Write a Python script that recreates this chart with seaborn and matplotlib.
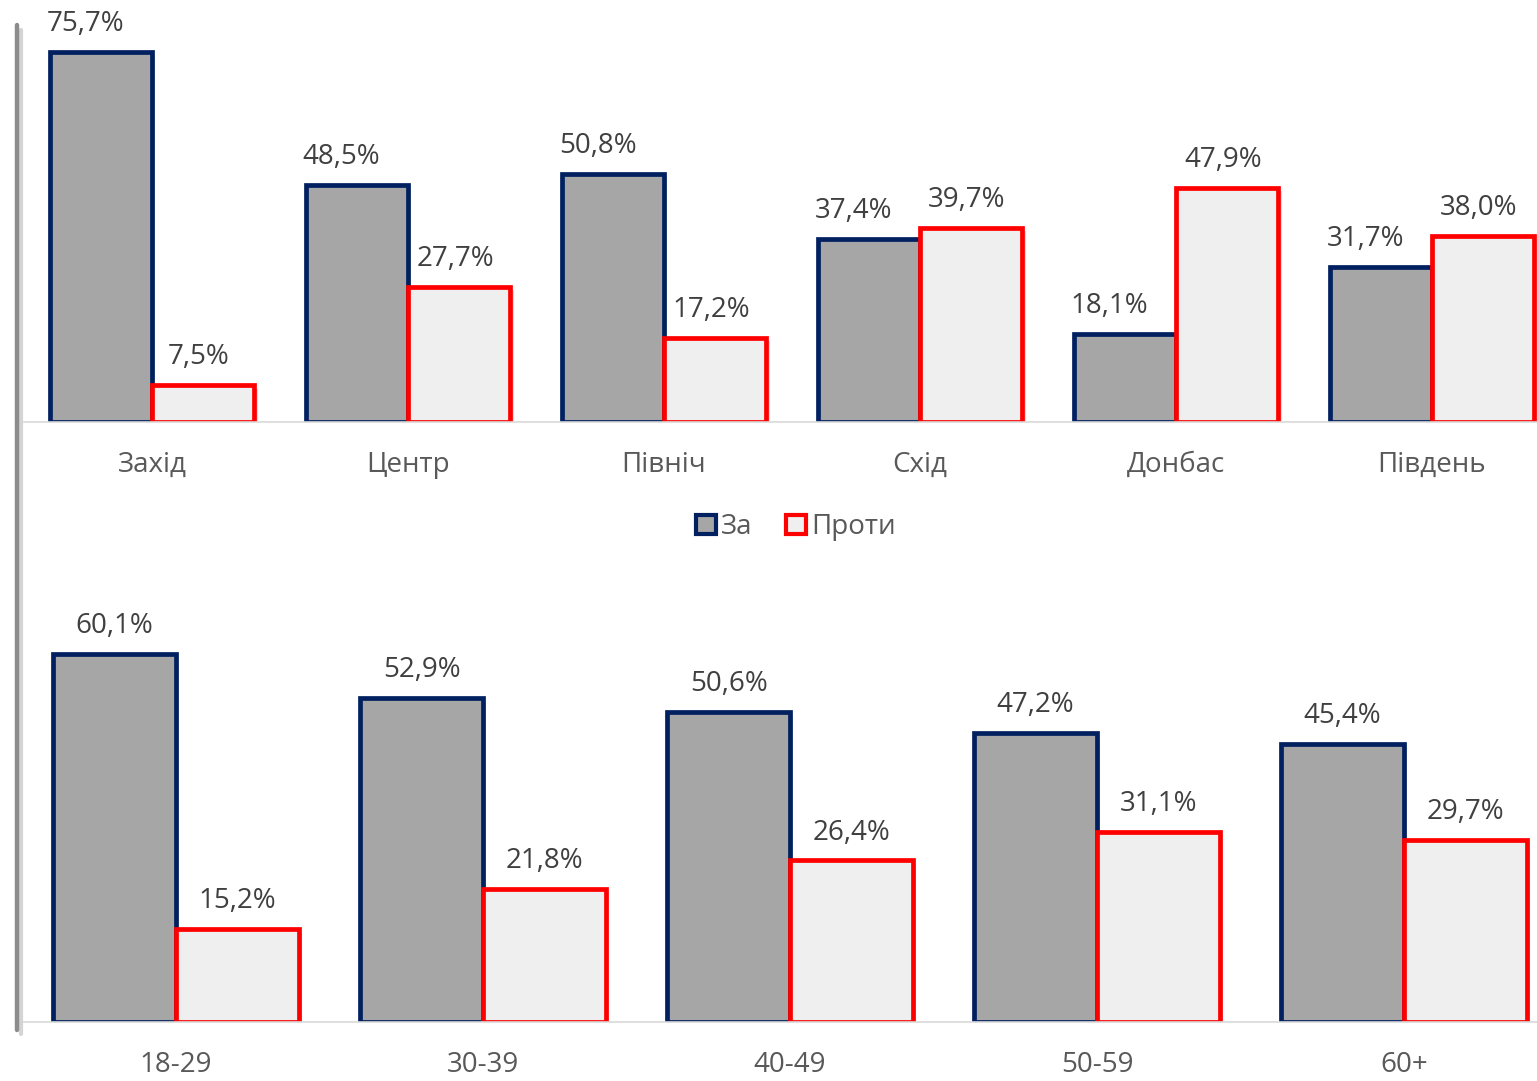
import numpy as np
import pandas as pd
import matplotlib
matplotlib.use("Agg")
import matplotlib.pyplot as plt
from matplotlib.patches import Patch
from matplotlib.lines import Line2D
import matplotlib.patheffects as pe
import seaborn as sns

# ---- data ----
regions = ["Захід", "Центр", "Північ", "Схід", "Донбас", "Південь"]
region_for = [75.7, 48.5, 50.8, 37.4, 18.1, 31.7]
region_against = [7.5, 27.7, 17.2, 39.7, 47.9, 38.0]

ages = ["18-29", "30-39", "40-49", "50-59", "60+"]
age_for = [60.1, 52.9, 50.6, 47.2, 45.4]
age_against = [15.2, 21.8, 26.4, 31.1, 29.7]

series = ["За", "Проти"]

sns.set_theme(style="white")
plt.rcParams["font.family"] = ["Open Sans", "DejaVu Sans"]

W, H = 1537, 1081
fig = plt.figure(figsize=(W / 100, H / 100), dpi=100)

face = {"За": "#A6A6A6", "Проти": "#EFEFEF"}
edge = {"За": "#002060", "Проти": "#FF0000"}
FS = 20

def fmt(v):
    return f"{v:.1f}%".replace(".", ",")

def panel(rect, cats, v1, v2, ytop, xright, label_shift):
    ax = fig.add_axes(rect)
    df = pd.DataFrame({
        "cat": cats * 2,
        "val": list(v1) + list(v2),
        "grp": [series[0]] * len(cats) + [series[1]] * len(cats),
    })
    sns.barplot(data=df, x="cat", y="val", hue="grp", order=cats,
                hue_order=series, palette=face, width=0.8, ax=ax,
                legend=False, saturation=1, errorbar=None)
    shadow = [pe.SimplePatchShadow(offset=(2.5, -2.5), alpha=0.25,
                                   shadow_rgbFace="#7f7f7f"), pe.Normal()]
    for cont, s, vals, dx in zip(ax.containers, series, [v1, v2], label_shift):
        for b, v in zip(cont, vals):
            b.set_edgecolor(edge[s])
            b.set_linewidth(3.4)
            b.set_joinstyle("miter")
            b.set_path_effects(shadow)
            ax.annotate(fmt(v), (b.get_x() + b.get_width() / 2, b.get_height()),
                        xytext=(dx, 10), textcoords="offset points",
                        ha="center", va="bottom", fontsize=FS, color="#404040")
    ax.set_ylim(0, ytop)
    ax.set_xlim(-0.5, xright)
    ax.set_xlabel("")
    ax.set_ylabel("")
    ax.set_yticks([])
    for sp in ["top", "left", "right"]:
        ax.spines[sp].set_visible(False)
    ax.spines["bottom"].set_color("#D9D9D9")
    ax.spines["bottom"].set_linewidth(1.2)
    ax.tick_params(axis="x", length=0, pad=21, labelsize=FS,
                   labelcolor="#595959")
    return ax

# top panel: baseline at y=422 px, 256 px per category
ax1 = panel([24 / W, 1 - 422 / H, (W - 24) / W, 422 / H],
            regions, region_for, region_against,
            422 / 4.888, -0.5 + (W - 24) / 256, (-11, -3))

# bottom panel: baseline at y=1022 px, 307 px per category
ax2 = panel([22.5 / W, 1 - 1022 / H, (W - 22.5) / W, 422 / H],
            ages, age_for, age_against,
            422 / 6.12, -0.5 + (W - 22.5) / 307, (0, 0))

# left vertical decorative line with a soft shadow
fig.add_artist(Line2D([20.5 / W, 20.5 / W], [1 - 30 / H, 1 - 1034 / H],
                      transform=fig.transFigure, color="#D4D4D4", lw=3))
fig.add_artist(Line2D([17 / W, 17 / W], [1 - 25 / H, 1 - 1030 / H],
                      transform=fig.transFigure, color="#8C8C8C", lw=3.2))

# legend
handles = [Patch(facecolor=face[s], edgecolor=edge[s], linewidth=3, label=s)
           for s in series]
fig.legend(handles=handles, loc="center", bbox_to_anchor=(796 / W, 1 - 527 / H),
           ncol=2, frameon=False, fontsize=FS, handlelength=0.7,
           handleheight=0.7, handletextpad=0.2, columnspacing=1.2,
           labelcolor="#595959")

fig.savefig("out.png", dpi=100)
